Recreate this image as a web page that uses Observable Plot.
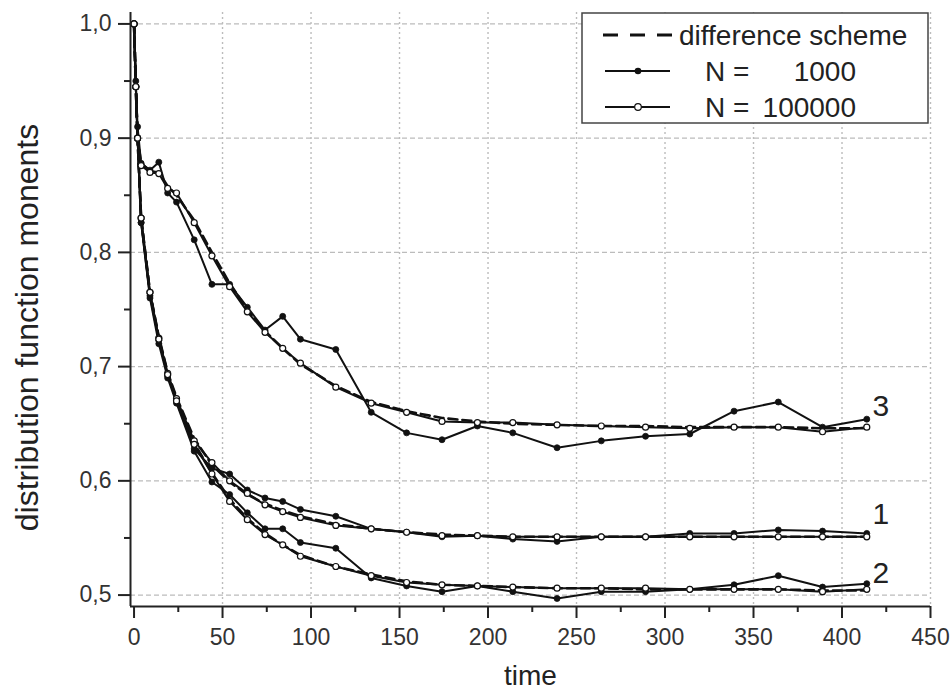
<!DOCTYPE html>
<html>
<head>
<meta charset="utf-8">
<script src="https://cdn.jsdelivr.net/npm/d3@7"></script>
<script src="https://cdn.jsdelivr.net/npm/@observablehq/plot@0.6"></script>
<style>
  html, body { margin: 0; padding: 0; background: #fff; }
  #wrap { position: relative; width: 952px; height: 695px; }
  #legend { position: absolute; left: 0; top: 0; pointer-events: none; }
</style>
</head>
<body>
<div id="wrap"></div>
<script>
// ---- data ----
const times = [0,1,2,4,9,14,19,24,34,44,54,64,74,84,94,114,134,154,174,194,214,239,264,289,314,339,364,389,414];

// curve 1
const scheme1 = [1.0,0.945,0.90,0.83,0.765,0.726,0.695,0.673,0.637,0.614,0.599,0.588,0.580,0.574,0.569,0.562,0.558,0.555,0.553,0.552,0.551,0.551,0.551,0.551,0.551,0.551,0.551,0.551,0.551];
const n1000_1 = [1.0,0.945,0.90,0.826,0.762,0.723,0.692,0.670,0.628,0.611,0.606,0.592,0.585,0.582,0.575,0.569,0.558,0.555,0.551,0.552,0.549,0.547,0.551,0.551,0.554,0.554,0.557,0.556,0.554];
const n100000_1 = [1.0,0.945,0.90,0.83,0.765,0.725,0.694,0.672,0.635,0.616,0.600,0.589,0.579,0.573,0.568,0.561,0.558,0.555,0.552,0.552,0.551,0.551,0.551,0.551,0.551,0.551,0.551,0.551,0.551];

// curve 2
const scheme2 = [1.0,0.945,0.90,0.83,0.765,0.725,0.694,0.671,0.633,0.607,0.584,0.567,0.554,0.544,0.535,0.525,0.518,0.512,0.509,0.508,0.507,0.506,0.506,0.505,0.505,0.505,0.505,0.504,0.504];
const n1000_2 = [1.0,0.945,0.90,0.826,0.760,0.720,0.690,0.668,0.626,0.599,0.588,0.572,0.558,0.558,0.546,0.541,0.515,0.508,0.503,0.508,0.503,0.497,0.503,0.503,0.505,0.509,0.517,0.507,0.510];
const n100000_2 = [1.0,0.945,0.90,0.83,0.765,0.724,0.693,0.670,0.632,0.606,0.582,0.566,0.553,0.544,0.534,0.525,0.517,0.511,0.509,0.508,0.507,0.506,0.506,0.506,0.505,0.505,0.505,0.503,0.505];

// curve 3
const scheme3 = [1.0,0.945,0.90,0.878,0.871,0.870,0.858,0.850,0.828,0.800,0.773,0.750,0.731,0.716,0.702,0.683,0.669,0.661,0.655,0.652,0.650,0.649,0.648,0.648,0.647,0.647,0.647,0.646,0.646];
const n1000_3 = [1.0,0.95,0.91,0.878,0.872,0.879,0.852,0.844,0.811,0.772,0.772,0.752,0.732,0.744,0.724,0.715,0.660,0.642,0.636,0.648,0.642,0.629,0.635,0.639,0.641,0.661,0.669,0.647,0.654];
const n100000_3 = [1.0,0.945,0.90,0.876,0.870,0.869,0.856,0.852,0.826,0.797,0.770,0.748,0.730,0.716,0.703,0.682,0.668,0.660,0.652,0.651,0.651,0.649,0.648,0.647,0.646,0.647,0.647,0.643,0.647];

const curveLabels = ["1", "2", "3"];
const legendLabels = ["difference scheme", "N =", "1000", "100000"];
const xTicks = [0,50,100,150,200,250,300,350,400,450];
const xMinorTicks = [25,75,125,175,225,275,325,375,425];
const yTicks = [0.5,0.6,0.7,0.8,0.9,1.0];
const yMinorTicks = [0.55,0.65,0.75,0.85,0.95];
const xTitle = "time";
const yTitle = "distribution function monents";

// ---- build table ----
const series = [
  {curve: "1", kind: "scheme", values: scheme1},
  {curve: "1", kind: "n1000", values: n1000_1},
  {curve: "1", kind: "n100000", values: n100000_1},
  {curve: "2", kind: "scheme", values: scheme2},
  {curve: "2", kind: "n1000", values: n1000_2},
  {curve: "2", kind: "n100000", values: n100000_2},
  {curve: "3", kind: "scheme", values: scheme3},
  {curve: "3", kind: "n1000", values: n1000_3},
  {curve: "3", kind: "n100000", values: n100000_3}
];
const rows = series.flatMap(s => s.values.map((v, i) => ({curve: s.curve, kind: s.kind, t: times[i], v})));
const byKind = k => rows.filter(r => r.kind === k);
const lastOf = c => byKind("n1000").filter(r => r.curve === c).slice(-1);

const fmt = d => d.toFixed(1).replace(".", ",");
const font = "'Liberation Sans', Arial, Helvetica, sans-serif";

const labelDy = {"1": -19, "2": -10, "3": -13};

const chart = Plot.plot({
  width: 952,
  height: 695,
  marginLeft: 130,
  marginRight: 22,
  marginTop: 12,
  marginBottom: 89,
  style: {fontFamily: font, fontSize: "23px", background: "#fff", color: "#222"},
  x: {domain: [-2, 450]},
  y: {domain: [0.49, 1.01]},
  marks: [
    Plot.gridY(yTicks, {stroke: "#bcbcbc", strokeOpacity: 1, strokeWidth: 1.2, strokeDasharray: "5,3"}),
    Plot.gridX(xTicks.filter(d => d > 0), {stroke: "#bcbcbc", strokeOpacity: 1, strokeWidth: 1.4, strokeDasharray: "2,3"}),
    Plot.line(byKind("scheme"), {x: "t", y: "v", z: "curve", stroke: "#111", strokeWidth: 2.6, strokeDasharray: "9,5"}),
    Plot.line(byKind("n1000"), {x: "t", y: "v", z: "curve", stroke: "#111", strokeWidth: 2}),
    Plot.line(byKind("n100000"), {x: "t", y: "v", z: "curve", stroke: "#111", strokeWidth: 2}),
    Plot.dot(byKind("n1000"), {x: "t", y: "v", r: 3, fill: "#111", stroke: "#111", strokeWidth: 0.8}),
    Plot.dot(byKind("n100000"), {x: "t", y: "v", r: 3, fill: "#fff", stroke: "#111", strokeWidth: 1.2}),
    Plot.ruleY([0.49], {stroke: "#222", strokeWidth: 2}),
    Plot.ruleX([-2], {stroke: "#222", strokeWidth: 2}),
    Plot.axisX(xTicks, {tickSize: 12, tickPadding: 10, tickFormat: d => String(d), fontSize: 23, fill: "#333", stroke: "#222", strokeWidth: 2, label: null}),
    Plot.axisX(xMinorTicks, {tickSize: 6, tickFormat: () => "", stroke: "#222", strokeWidth: 2, label: null}),
    Plot.axisY(yTicks, {tickSize: 12, tickPadding: 7, tickFormat: fmt, fontSize: 23, fill: "#333", stroke: "#222", strokeWidth: 2, label: null}),
    Plot.axisY(yMinorTicks, {tickSize: 6, tickFormat: () => "", stroke: "#222", strokeWidth: 2, label: null}),
    Plot.text([yTitle], {text: d => d, frameAnchor: "left", textAnchor: "middle", rotate: -90, dx: -103, dy: 18, fontSize: 32, fill: "#222"}),
    Plot.text([xTitle], {text: d => d, frameAnchor: "bottom", textAnchor: "middle", dy: 78, fontSize: 28, fill: "#222"}),
    ...curveLabels.map(c => Plot.text(lastOf(c), {x: "t", y: "v", text: () => c, dx: 14, dy: labelDy[c], fontSize: 30, fill: "#222"}))
  ]
});

const wrap = document.getElementById("wrap");
wrap.appendChild(chart);

// ---- legend overlay ----
const lg = d3.select(wrap).append("svg")
  .attr("id", "legend").attr("width", 952).attr("height", 695)
  .style("font-family", font);
lg.append("rect").attr("x", 582).attr("y", 13).attr("width", 346).attr("height", 110)
  .attr("fill", "#fff").attr("stroke", "#444").attr("stroke-width", 1.5);
const fs = 28;
// row 1: dashed
lg.append("line").attr("x1", 603).attr("x2", 673).attr("y1", 35).attr("y2", 35)
  .attr("stroke", "#111").attr("stroke-width", 3).attr("stroke-dasharray", "15,12");
lg.append("text").attr("x", 679).attr("y", 35).attr("dy", "0.35em").attr("font-size", fs).attr("fill", "#222").text(legendLabels[0]);
// row 2: filled
lg.append("line").attr("x1", 605).attr("x2", 670).attr("y1", 71).attr("y2", 71).attr("stroke", "#111").attr("stroke-width", 2);
lg.append("circle").attr("cx", 638).attr("cy", 71).attr("r", 3.3).attr("fill", "#111");
lg.append("text").attr("x", 705).attr("y", 71).attr("dy", "0.35em").attr("font-size", fs).attr("fill", "#222").text(legendLabels[1]);
lg.append("text").attr("x", 856).attr("y", 71).attr("dy", "0.35em").attr("font-size", fs).attr("fill", "#222").attr("text-anchor", "end").text(legendLabels[2]);
// row 3: open
lg.append("line").attr("x1", 605).attr("x2", 670).attr("y1", 107).attr("y2", 107).attr("stroke", "#111").attr("stroke-width", 2);
lg.append("circle").attr("cx", 638).attr("cy", 107).attr("r", 3.3).attr("fill", "#fff").attr("stroke", "#111").attr("stroke-width", 1.2);
lg.append("text").attr("x", 705).attr("y", 107).attr("dy", "0.35em").attr("font-size", fs).attr("fill", "#222").text(legendLabels[1]);
lg.append("text").attr("x", 856).attr("y", 107).attr("dy", "0.35em").attr("font-size", fs).attr("fill", "#222").attr("text-anchor", "end").text(legendLabels[3]);
</script>
</body>
</html>
